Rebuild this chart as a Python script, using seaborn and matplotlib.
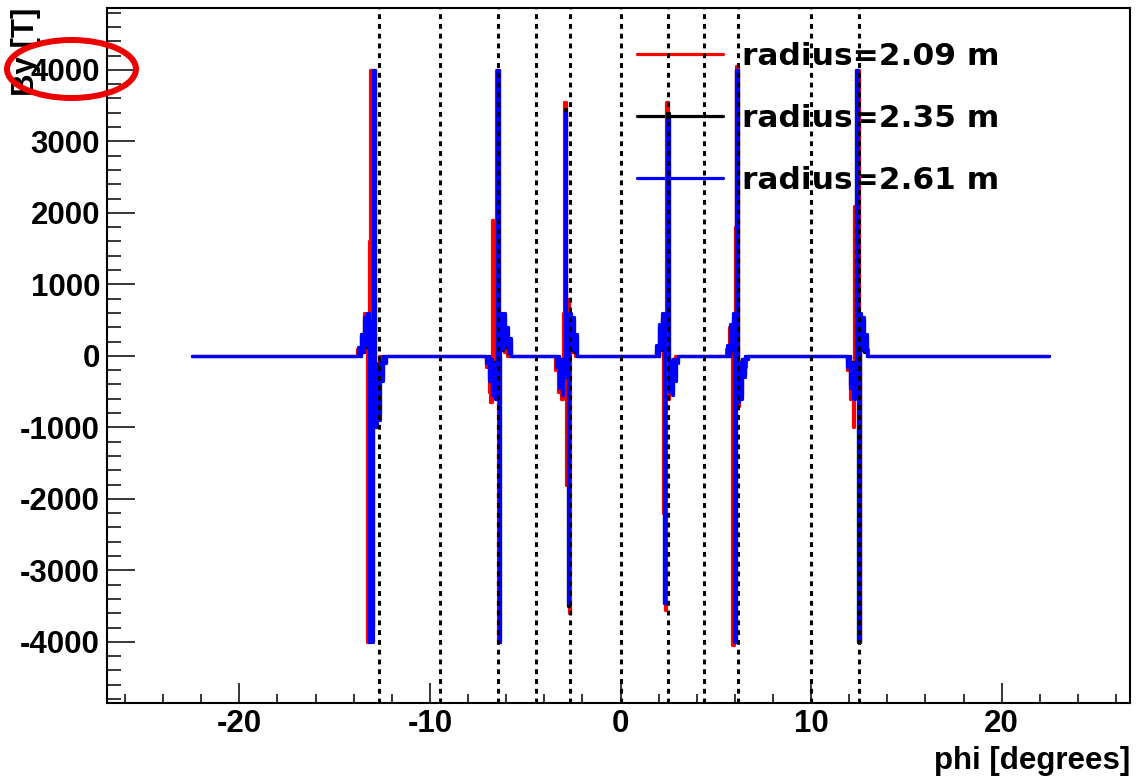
import numpy as np
import pandas as pd
import matplotlib
matplotlib.use("Agg")
import matplotlib.pyplot as plt
import seaborn as sns
from matplotlib.patches import Ellipse
from matplotlib.lines import Line2D
from matplotlib.ticker import MultipleLocator

# ---------------- data ----------------
series_labels = ["radius=2.09 m", "radius=2.35 m", "radius=2.61 m"]
series_colors = ["#ff0000", "#000000", "#0000ff"]

phi_r209 = [-22.5,
            -13.84, -13.76, -13.68, -13.60, -13.52, -13.44, -13.36, -13.28, -13.22, -13.16, -13.10, -13.04, -12.96, -12.88, -12.80, -12.72, -12.64, -12.56, -12.48, -12.40,
            -7.12, -7.04, -6.96, -6.88, -6.80, -6.72, -6.64, -6.56, -6.48, -6.40, -6.32, -6.24, -6.16, -6.08, -6.00, -5.92,
            -3.48, -3.40, -3.32, -3.24, -3.16, -3.08, -3.00, -2.92, -2.84, -2.76, -2.68, -2.60, -2.52, -2.44, -2.36, -2.28,
            1.80, 1.88, 1.96, 2.04, 2.12, 2.20, 2.28, 2.36, 2.44, 2.52, 2.60, 2.68, 2.76, 2.84, 2.92, 3.00,
            5.50, 5.58, 5.66, 5.74, 5.82, 5.90, 5.96, 6.04, 6.12, 6.20, 6.28, 6.36, 6.44, 6.52, 6.60, 6.68,
            11.82, 11.90, 11.98, 12.06, 12.14, 12.22, 12.30, 12.38, 12.46, 12.54, 12.62, 12.70, 12.78, 12.86, 12.94, 13.02,
            22.5]
b_r209 = [0,
          0, 100, 0, 300, 100, 600, 200, -4000, -2900, 1600, 4000, -800, -200, -700, -100, -300, 0, -100, 0, 0,
          0, -150, 0, -500, -650, 1900, -400, -200, 4000, -4000, 500, 100, 300, 50, 100, 0,
          0, -200, 0, -500, -100, -600, 600, 3550, -1800, 800, -3600, 300, 50, 100, 0, 0,
          0, 100, 0, 400, 100, 550, -2200, -3550, 3550, -600, -100, -450, -50, -250, 0, 0,
          0, 100, 0, 400, 100, -4050, 600, 1800, 4050, -700, -100, -450, -50, -150, 0, 0,
          0, -200, 0, -600, -100, -1000, 2100, -500, 4000, -4000, 500, 100, 300, 50, 100, 0,
          0]

phi_r261 = [-22.5,
            -13.80, -13.72, -13.64, -13.56, -13.48, -13.40, -13.32, -13.24, -13.16, -13.08, -13.00, -12.92, -12.84, -12.76, -12.68, -12.60, -12.52, -12.44, -12.36, -12.28,
            -7.08, -7.00, -6.92, -6.84, -6.76, -6.68, -6.60, -6.52, -6.44, -6.36, -6.28, -6.20, -6.12, -6.04, -5.96, -5.88, -5.80, -5.72,
            -3.44, -3.36, -3.28, -3.20, -3.12, -3.04, -2.96, -2.88, -2.80, -2.72, -2.64, -2.56, -2.48, -2.40, -2.32, -2.24, -2.16,
            1.84, 1.92, 2.00, 2.08, 2.16, 2.24, 2.32, 2.40, 2.48, 2.56, 2.64, 2.72, 2.80, 2.88, 2.96, 3.04,
            5.54, 5.62, 5.70, 5.78, 5.86, 5.94, 6.02, 6.10, 6.18, 6.26, 6.34, 6.42, 6.50, 6.58, 6.66, 6.74,
            11.86, 11.94, 12.02, 12.10, 12.18, 12.26, 12.34, 12.42, 12.50, 12.58, 12.66, 12.74, 12.82, 12.90, 12.98, 13.06,
            22.5]
b_r261 = [0,
          0, 120, 0, 300, 60, 550, 150, 600, -4000, 500, -4000, 4000, -1000, -150, -900, -100, -350, 0, -100, 0,
          0, -100, 0, -350, -50, -550, -100, -600, 4000, -4000, 600, 100, 600, 150, 400, 50, 250, 0,
          0, -150, 0, -450, -50, -550, -300, 3400, -300, -3450, 600, 100, 550, 80, 300, 0, 0,
          0, 150, 0, 450, 100, 600, -3450, 500, 3300, -500, -100, -550, -50, -350, -100, 0,
          0, 150, 0, 450, 100, 600, -4000, 4000, -650, -100, -600, -50, -300, 0, -50, 0,
          0, -150, 0, -450, -100, -600, -500, 4000, -4000, 600, 100, 550, 80, 300, 0, 0,
          0]

# radius 2.35 m was sampled on the same phi grid as radius 2.61 m
phi_r235 = phi_r261
b_r235 = [0,
          0, 100, 0, 280, 50, 500, 120, 550, -4000, 450, -3800, 4000, -900, -120, -800, -80, -300, 0, -80, 0,
          0, -80, 0, -300, -40, -500, -80, -550, 4000, -4000, 550, 80, 550, 120, 350, 40, 200, 0,
          0, -120, 0, -400, -40, -500, -250, 3450, -250, -3500, 550, 80, 500, 60, 250, 0, 0,
          0, 120, 0, 400, 80, 550, -3450, 450, 3400, -450, -80, -500, -40, -300, -80, 0,
          0, 120, 0, 400, 80, 550, -4000, 4000, -600, -80, -550, -40, -250, 0, -40, 0,
          0, -120, 0, -400, -80, -550, -450, 4000, -4000, 550, 80, 500, 60, 250, 0, 0,
          0]

# dotted boundary positions [degrees]
boundaries = [-12.67, -9.47, -6.43, -4.43, -2.65, 0.0, 2.49, 4.38, 6.16, 9.99, 12.51]

# ---------------- build table ----------------
frames = []
for lab, ph, bv in zip(series_labels, [phi_r209, phi_r235, phi_r261], [b_r209, b_r235, b_r261]):
    assert len(ph) == len(bv), (lab, len(ph), len(bv))
    frames.append(pd.DataFrame({"phi": ph, "B": bv, "series": lab}))
df = pd.concat(frames, ignore_index=True)

sns.set_theme(style="white")
plt.rcParams['font.family'] = ['Liberation Sans', 'DejaVu Sans']
plt.rcParams['font.weight'] = 'bold'
plt.rcParams['axes.unicode_minus'] = False
for k in ["text.color", "axes.labelcolor", "xtick.color", "ytick.color", "axes.edgecolor"]:
    plt.rcParams[k] = "black"

W, H = 1136, 777
fig = plt.figure(figsize=(W / 100, H / 100), dpi=100)
fig.patch.set_facecolor("white")
ax = fig.add_axes([107 / W, 1 - 703 / H, (1130 - 107) / W, (703 - 8) / H])
ax.set_facecolor("white")

palette = dict(zip(series_labels, series_colors))
sns.lineplot(data=df, x="phi", y="B", hue="series", hue_order=series_labels,
             palette=palette, estimator=None, sort=False, units="series",
             linewidth=2.3, legend=False, ax=ax, zorder=3, drawstyle="steps-mid")

for xb in boundaries:
    ax.axvline(xb, color="black", linewidth=2.2, linestyle=(0, (1.6, 1.6)), zorder=4)

ax.set_xlim(-26.94, 26.73)
ax.set_ylim(-4855, 4865)

ax.xaxis.set_major_locator(MultipleLocator(10))
ax.xaxis.set_minor_locator(MultipleLocator(2))
ax.yaxis.set_major_locator(MultipleLocator(1000))
ax.yaxis.set_minor_locator(MultipleLocator(200))

ax.tick_params(axis="x", which="major", direction="in", length=14.4, width=1.1,
               labelsize=22.5, pad=4, bottom=True, top=False, colors="black")
ax.tick_params(axis="x", which="minor", direction="in", length=6.5, width=1.1, bottom=True, top=False)
ax.tick_params(axis="y", which="major", direction="in", length=20, width=1.1,
               labelsize=22.5, pad=5, left=True, right=False, colors="black")
ax.tick_params(axis="y", which="minor", direction="in", length=10, width=1.1, left=True, right=False)
for lbl in ax.get_xticklabels() + ax.get_yticklabels():
    lbl.set_fontweight("bold")

for sp in ax.spines.values():
    sp.set_linewidth(1.5)
    sp.set_color("black")

ax.set_xlabel("phi [degrees]", loc="right", fontsize=22.5, fontweight="bold", labelpad=5, color="black")
ax.set_ylabel("")
fig.text(26 / W, 1 - 8 / H, "By [T]", rotation=90, ha="center", va="top",
         fontsize=22.5, fontweight="bold", color="black")

handles = [Line2D([0], [0], color=c, linewidth=2.3) for c in series_colors]
leg = ax.legend(handles, series_labels, loc="upper left",
                bbox_to_anchor=(637 / W, 1 - 42 / H), bbox_transform=fig.transFigure,
                frameon=False, borderpad=0, borderaxespad=0, handlelength=2.75,
                handletextpad=0.6, labelspacing=1.05,
                prop={"family": "DejaVu Sans", "weight": "bold", "size": 22.5})
for t in leg.get_texts():
    t.set_color("black")
leg.set_zorder(2)

ell = Ellipse((71.5 / W, 1 - 69 / H), 129 / W, 58 / H, transform=fig.transFigure,
              fill=False, edgecolor="#ee0000", linewidth=4.3, zorder=10)
fig.add_artist(ell)

fig.savefig("out.png", dpi=100, facecolor="white")
